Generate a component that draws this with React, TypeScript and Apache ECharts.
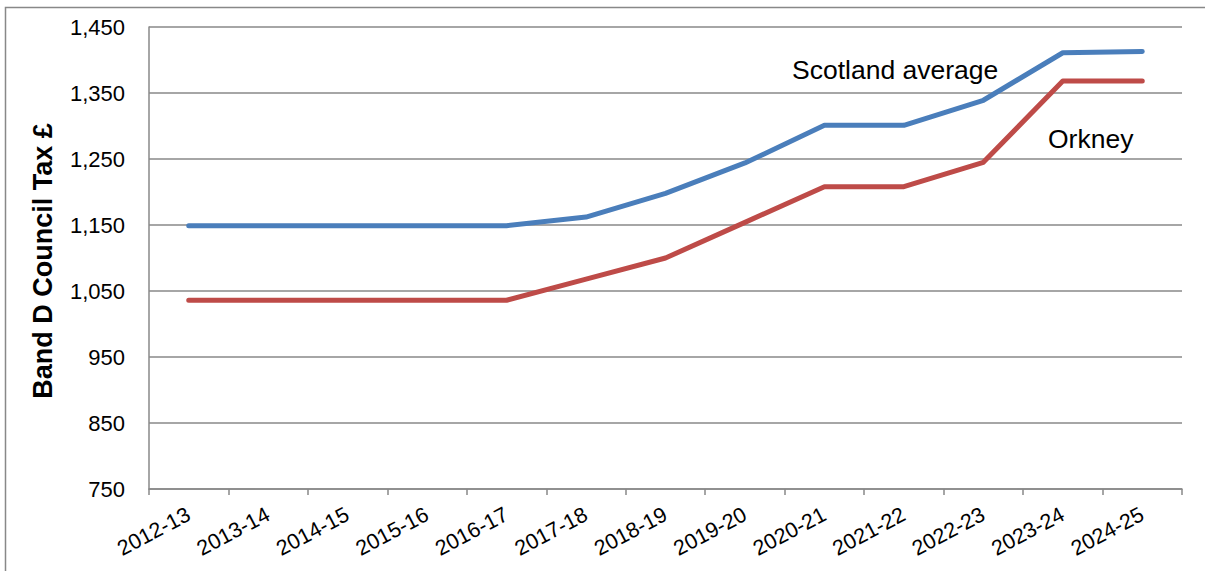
import React, { useEffect, useRef } from "react";
import * as echarts from "echarts";

const years = [
  "2012-13", "2013-14", "2014-15", "2015-16", "2016-17", "2017-18", "2018-19",
  "2019-20", "2020-21", "2021-22", "2022-23", "2023-24", "2024-25",
];
const scotlandAverage = [1149, 1149, 1149, 1149, 1149, 1162, 1198, 1244, 1301, 1301, 1339, 1411, 1413];
const orkney = [1036, 1036, 1036, 1036, 1036, 1068, 1100, 1154, 1208, 1208, 1245, 1368, 1368];
const yMin = 750;
const yMax = 1450;
const yStep = 100;

const FONT = "'Liberation Sans', Arial, sans-serif";
const GRAY = "#888888";

export default function App() {
  const ref = useRef<HTMLDivElement>(null);
  useEffect(() => {
    if (!ref.current) return;
    const chart = echarts.init(ref.current, null, { renderer: "svg" });
    chart.setOption({
      animation: false,
      backgroundColor: "#ffffff",
      textStyle: { fontFamily: FONT },
      grid: { left: 149, top: 27, right: 23, bottom: 82, containLabel: false },
      xAxis: {
        type: "category",
        data: years,
        boundaryGap: true,
        axisLine: { lineStyle: { color: GRAY, width: 1.5 } },
        axisTick: { show: true, alignWithLabel: false, length: 6, lineStyle: { color: GRAY, width: 1.5 } },
        axisLabel: {
          rotate: 28,
          margin: 24,
          color: "#000",
          fontSize: 21.5,
          fontFamily: FONT,
          interval: 0,
        },
        splitLine: { show: false },
      },
      yAxis: {
        type: "value",
        min: yMin,
        max: yMax,
        interval: yStep / 2,
        axisLine: { show: true, lineStyle: { color: GRAY, width: 1.5 } },
        axisTick: { show: false },
        axisLabel: {
          margin: 24,
          color: "#000",
          fontSize: 22,
          fontFamily: FONT,
          formatter: (v: number) =>
            (v - yMin) % yStep === 0 ? v.toLocaleString("en-GB") : "",
        },
        splitLine: {
          show: true,
          lineStyle: { color: [GRAY, "rgba(0,0,0,0)"], width: 1.5 },
        },
      },
      series: [
        {
          name: "Scotland average",
          type: "line",
          data: scotlandAverage,
          symbol: "none",
          lineStyle: { color: "#4a7ebb", width: 5, cap: "round", join: "round" },
          z: 3,
        },
        {
          name: "Orkney",
          type: "line",
          data: orkney,
          symbol: "none",
          lineStyle: { color: "#be4b48", width: 5, cap: "round", join: "round" },
          z: 2,
        },
      ],
      graphic: [
        {
          type: "rect",
          shape: { x: 5.5, y: 7.5, width: 1250, height: 620 },
          style: { fill: "none", stroke: GRAY, lineWidth: 1.5 },
          silent: true,
          z: -1,
        },
        {
          type: "text",
          x: 43,
          y: 261,
          rotation: Math.PI / 2,
          style: {
            text: "Band D Council Tax £",
            fontFamily: FONT,
            fontSize: 27,
            fontWeight: "bold",
            fill: "#000",
            align: "center",
            verticalAlign: "middle",
          },
        },
        {
          type: "text",
          x: 792,
          y: 70,
          style: {
            text: "Scotland average",
            fontFamily: FONT,
            fontSize: 26.5,
            fill: "#000",
            align: "left",
            verticalAlign: "middle",
          },
        },
        {
          type: "text",
          x: 1048,
          y: 139,
          style: {
            text: "Orkney",
            fontFamily: FONT,
            fontSize: 26.5,
            fill: "#000",
            align: "left",
            verticalAlign: "middle",
          },
        },
      ],
    });
    return () => chart.dispose();
  }, []);
  return (
    <div
      ref={ref}
      style={{ position: "fixed", left: 0, top: 0, width: 1205, height: 571 }}
    />
  );
}
